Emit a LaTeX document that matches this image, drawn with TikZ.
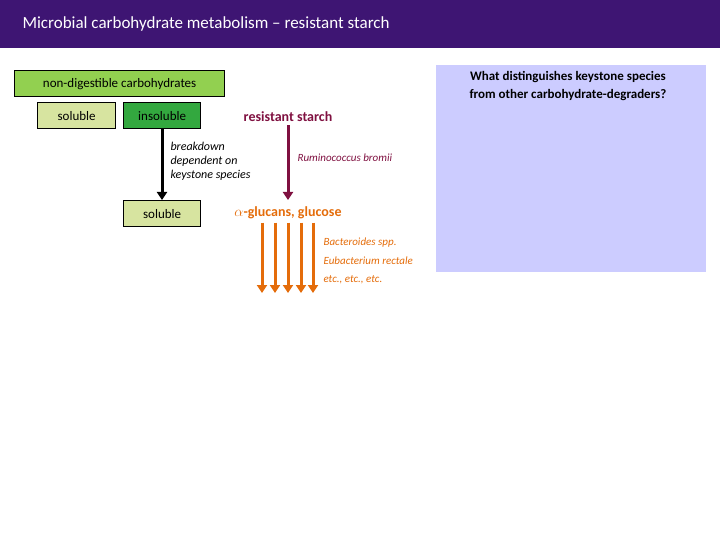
\documentclass[tikz,border=0pt]{standalone}
\usepackage{fontspec}
\setmainfont{Carlito}
\usetikzlibrary{arrows.meta}
\definecolor{hdr}{HTML}{3E1573}
\definecolor{lav}{HTML}{CCCCFF}
\definecolor{lg}{HTML}{92D050}
\definecolor{pg}{HTML}{D7E4A0}
\definecolor{dg}{HTML}{33A83F}
\definecolor{mar}{HTML}{7F1040}
\definecolor{org}{HTML}{E46C0A}
\begin{document}
\begin{tikzpicture}[x=1pt,y=-1pt,
 box/.style={draw=black,line width=1.3pt,minimum height=26pt,inner sep=2pt,font=\fontsize{13}{15}\selectfont,anchor=north west},
 arr/.style={line width=3pt,-{Triangle[length=8pt,width=10pt]}},
 it/.style={font=\itshape\fontsize{12}{14}\selectfont,anchor=west}]
\useasboundingbox (0,0) rectangle (720,540);
\fill[hdr] (0,0) rectangle (720,48);
\node[text=white,anchor=west,font=\fontsize{17}{20}\selectfont] (title) at (19,24) {Microbial carbohydrate metabolism – resistant starch};
\fill[lav] (436,65) rectangle (706,272);
\node[align=center,font=\bfseries\fontsize{13}{18}\selectfont,anchor=north] (q) at (568,68) {What distinguishes keystone species\\from other carbohydrate-degraders?};
\node[box,fill=lg,minimum width=210pt] (nd) at (14,70) {non-digestible carbohydrates};
\node[box,fill=pg,minimum width=78pt] (s1) at (37,102) {soluble};
\node[box,fill=dg,minimum width=77pt] (ins) at (123,102) {insoluble};
\node[box,fill=pg,minimum width=77pt] (s2) at (123,200) {soluble};
\node[text=mar,font=\bfseries\fontsize{14}{16}\selectfont] (rs) at (288,117) {resistant starch};
\draw[arr] (ins.south -| 162,0) -- (s2.north -| 162,0);
\node[it,align=left] (bd) at (167,161) {breakdown\\dependent on\\keystone species};
\coordinate (ag) at (288,200);
\draw[arr,mar] (rs.south) -- (ag);
\node[it,text=mar,font=\itshape\fontsize{11}{13}\selectfont] (rb) at (294,158) {Ruminococcus bromii};
\node[text=org,font=\bfseries\fontsize{14}{16}\selectfont] (glc) at (288,213) {$\alpha$-glucans, glucose};
\foreach \xx [count=\i] in {262,275,288,301,313}{
 \coordinate (e\i) at (\xx,293);
 \draw[arr,org] (glc.south -| \xx,0) -- (e\i);}
\node[it,text=org,align=left,font=\itshape\fontsize{11}{18.5}\selectfont] (bac) at (320,261) {Bacteroides spp.\\Eubacterium rectale\\etc., etc., etc.};
\end{tikzpicture}
\end{document}
